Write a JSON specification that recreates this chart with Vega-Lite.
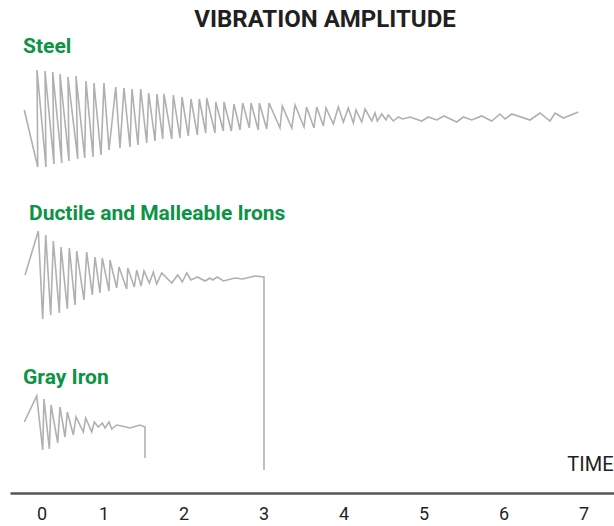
{
  "$schema": "https://vega.github.io/schema/vega-lite/v6.json",
  "width": 604,
  "height": 457,
  "autosize": {"type": "none"},
  "padding": {"left": 10, "top": 36, "right": 0, "bottom": 33},
  "background": "white",
  "config": {"view": {"stroke": null}},
  "title": {
    "text": "VIBRATION AMPLITUDE",
    "font": "Roboto",
    "fontSize": 24,
    "fontWeight": "bold",
    "color": "#231f20",
    "anchor": "middle",
    "dx": 13,
    "offset": 4
  },
  "datasets": {
    "lines": [
      {"series": "Steel", "t": 0.010, "amp": 383},
      {"series": "Steel", "t": 0.178, "amp": 326},
      {"series": "Steel", "t": 0.169, "amp": 423},
      {"series": "Steel", "t": 0.281, "amp": 326},
      {"series": "Steel", "t": 0.269, "amp": 422},
      {"series": "Steel", "t": 0.381, "amp": 329},
      {"series": "Steel", "t": 0.365, "amp": 421},
      {"series": "Steel", "t": 0.478, "amp": 330},
      {"series": "Steel", "t": 0.456, "amp": 419},
      {"series": "Steel", "t": 0.569, "amp": 332},
      {"series": "Steel", "t": 0.556, "amp": 416},
      {"series": "Steel", "t": 0.678, "amp": 334},
      {"series": "Steel", "t": 0.656, "amp": 417},
      {"series": "Steel", "t": 0.765, "amp": 335},
      {"series": "Steel", "t": 0.781, "amp": 412},
      {"series": "Steel", "t": 0.869, "amp": 336},
      {"series": "Steel", "t": 0.881, "amp": 410},
      {"series": "Steel", "t": 0.969, "amp": 338},
      {"series": "Steel", "t": 1.006, "amp": 410},
      {"series": "Steel", "t": 1.069, "amp": 343},
      {"series": "Steel", "t": 1.153, "amp": 406},
      {"series": "Steel", "t": 1.206, "amp": 345},
      {"series": "Steel", "t": 1.256, "amp": 405},
      {"series": "Steel", "t": 1.331, "amp": 346},
      {"series": "Steel", "t": 1.356, "amp": 404},
      {"series": "Steel", "t": 1.431, "amp": 348},
      {"series": "Steel", "t": 1.465, "amp": 404},
      {"series": "Steel", "t": 1.540, "amp": 350},
      {"series": "Steel", "t": 1.565, "amp": 400},
      {"series": "Steel", "t": 1.644, "amp": 352},
      {"series": "Steel", "t": 1.669, "amp": 399},
      {"series": "Steel", "t": 1.740, "amp": 354},
      {"series": "Steel", "t": 1.756, "amp": 399},
      {"series": "Steel", "t": 1.853, "amp": 354},
      {"series": "Steel", "t": 1.873, "amp": 398},
      {"series": "Steel", "t": 1.956, "amp": 355},
      {"series": "Steel", "t": 1.981, "amp": 396},
      {"series": "Steel", "t": 2.060, "amp": 357},
      {"series": "Steel", "t": 2.094, "amp": 394},
      {"series": "Steel", "t": 2.173, "amp": 358},
      {"series": "Steel", "t": 2.198, "amp": 394},
      {"series": "Steel", "t": 2.278, "amp": 360},
      {"series": "Steel", "t": 2.290, "amp": 395},
      {"series": "Steel", "t": 2.394, "amp": 360},
      {"series": "Steel", "t": 2.403, "amp": 391},
      {"series": "Steel", "t": 2.498, "amp": 362},
      {"series": "Steel", "t": 2.506, "amp": 391},
      {"series": "Steel", "t": 2.598, "amp": 362},
      {"series": "Steel", "t": 2.631, "amp": 389},
      {"series": "Steel", "t": 2.706, "amp": 363},
      {"series": "Steel", "t": 2.740, "amp": 390},
      {"series": "Steel", "t": 2.823, "amp": 365},
      {"series": "Steel", "t": 2.844, "amp": 390},
      {"series": "Steel", "t": 2.935, "amp": 363},
      {"series": "Steel", "t": 2.948, "amp": 390},
      {"series": "Steel", "t": 3.040, "amp": 364},
      {"series": "Steel", "t": 3.069, "amp": 390},
      {"series": "Steel", "t": 3.206, "amp": 365},
      {"series": "Steel", "t": 3.235, "amp": 387},
      {"series": "Steel", "t": 3.353, "amp": 365},
      {"series": "Steel", "t": 3.394, "amp": 388},
      {"series": "Steel", "t": 3.506, "amp": 366},
      {"series": "Steel", "t": 3.538, "amp": 386},
      {"series": "Steel", "t": 3.631, "amp": 365},
      {"series": "Steel", "t": 3.665, "amp": 386},
      {"series": "Steel", "t": 3.748, "amp": 367},
      {"series": "Steel", "t": 3.781, "amp": 385},
      {"series": "Steel", "t": 3.873, "amp": 369},
      {"series": "Steel", "t": 3.935, "amp": 386},
      {"series": "Steel", "t": 3.998, "amp": 371},
      {"series": "Steel", "t": 4.060, "amp": 385},
      {"series": "Steel", "t": 4.123, "amp": 370},
      {"series": "Steel", "t": 4.156, "amp": 383},
      {"series": "Steel", "t": 4.228, "amp": 371},
      {"series": "Steel", "t": 4.269, "amp": 384},
      {"series": "Steel", "t": 4.353, "amp": 372},
      {"series": "Steel", "t": 4.394, "amp": 380},
      {"series": "Steel", "t": 4.423, "amp": 372},
      {"series": "Steel", "t": 4.478, "amp": 379},
      {"series": "Steel", "t": 4.531, "amp": 373},
      {"series": "Steel", "t": 4.560, "amp": 378},
      {"series": "Steel", "t": 4.623, "amp": 372},
      {"series": "Steel", "t": 4.685, "amp": 376},
      {"series": "Steel", "t": 4.740, "amp": 374},
      {"series": "Steel", "t": 4.831, "amp": 376},
      {"series": "Steel", "t": 4.978, "amp": 372},
      {"series": "Steel", "t": 5.060, "amp": 376},
      {"series": "Steel", "t": 5.165, "amp": 373},
      {"series": "Steel", "t": 5.256, "amp": 377},
      {"series": "Steel", "t": 5.415, "amp": 371},
      {"series": "Steel", "t": 5.498, "amp": 376},
      {"series": "Steel", "t": 5.603, "amp": 373},
      {"series": "Steel", "t": 5.728, "amp": 377},
      {"series": "Steel", "t": 5.853, "amp": 372},
      {"series": "Steel", "t": 5.956, "amp": 379},
      {"series": "Steel", "t": 6.019, "amp": 374},
      {"series": "Steel", "t": 6.103, "amp": 379},
      {"series": "Steel", "t": 6.331, "amp": 373},
      {"series": "Steel", "t": 6.456, "amp": 380},
      {"series": "Steel", "t": 6.581, "amp": 372},
      {"series": "Steel", "t": 6.644, "amp": 380},
      {"series": "Steel", "t": 6.748, "amp": 375},
      {"series": "Steel", "t": 6.935, "amp": 381},

      {"series": "Ductile", "t": 0.019, "amp": 218},
      {"series": "Ductile", "t": 0.185, "amp": 262},
      {"series": "Ductile", "t": 0.240, "amp": 174},
      {"series": "Ductile", "t": 0.278, "amp": 258},
      {"series": "Ductile", "t": 0.340, "amp": 178},
      {"series": "Ductile", "t": 0.373, "amp": 252},
      {"series": "Ductile", "t": 0.448, "amp": 180},
      {"series": "Ductile", "t": 0.469, "amp": 246},
      {"series": "Ductile", "t": 0.548, "amp": 184},
      {"series": "Ductile", "t": 0.573, "amp": 245},
      {"series": "Ductile", "t": 0.644, "amp": 188},
      {"series": "Ductile", "t": 0.665, "amp": 242},
      {"series": "Ductile", "t": 0.756, "amp": 193},
      {"series": "Ductile", "t": 0.790, "amp": 241},
      {"series": "Ductile", "t": 0.860, "amp": 198},
      {"series": "Ductile", "t": 0.894, "amp": 236},
      {"series": "Ductile", "t": 0.956, "amp": 200},
      {"series": "Ductile", "t": 0.985, "amp": 235},
      {"series": "Ductile", "t": 1.069, "amp": 202},
      {"series": "Ductile", "t": 1.081, "amp": 233},
      {"series": "Ductile", "t": 1.165, "amp": 205},
      {"series": "Ductile", "t": 1.194, "amp": 226},
      {"series": "Ductile", "t": 1.290, "amp": 204},
      {"series": "Ductile", "t": 1.303, "amp": 225},
      {"series": "Ductile", "t": 1.385, "amp": 206},
      {"series": "Ductile", "t": 1.415, "amp": 223},
      {"series": "Ductile", "t": 1.469, "amp": 207},
      {"series": "Ductile", "t": 1.506, "amp": 222},
      {"series": "Ductile", "t": 1.573, "amp": 210},
      {"series": "Ductile", "t": 1.623, "amp": 221},
      {"series": "Ductile", "t": 1.665, "amp": 209},
      {"series": "Ductile", "t": 1.728, "amp": 220},
      {"series": "Ductile", "t": 1.853, "amp": 210},
      {"series": "Ductile", "t": 1.928, "amp": 218},
      {"series": "Ductile", "t": 1.985, "amp": 211},
      {"series": "Ductile", "t": 2.040, "amp": 220},
      {"series": "Ductile", "t": 2.094, "amp": 213},
      {"series": "Ductile", "t": 2.173, "amp": 216},
      {"series": "Ductile", "t": 2.269, "amp": 212},
      {"series": "Ductile", "t": 2.331, "amp": 215},
      {"series": "Ductile", "t": 2.365, "amp": 213},
      {"series": "Ductile", "t": 2.423, "amp": 216},
      {"series": "Ductile", "t": 2.498, "amp": 212},
      {"series": "Ductile", "t": 2.644, "amp": 215},
      {"series": "Ductile", "t": 2.740, "amp": 214},
      {"series": "Ductile", "t": 2.894, "amp": 217},
      {"series": "Ductile", "t": 3.006, "amp": 216},
      {"series": "Ductile", "t": 3.006, "amp": 23},

      {"series": "Gray", "t": 0.010, "amp": 71},
      {"series": "Gray", "t": 0.165, "amp": 97},
      {"series": "Gray", "t": 0.240, "amp": 43},
      {"series": "Gray", "t": 0.256, "amp": 94},
      {"series": "Gray", "t": 0.323, "amp": 44},
      {"series": "Gray", "t": 0.344, "amp": 88},
      {"series": "Gray", "t": 0.428, "amp": 50},
      {"series": "Gray", "t": 0.456, "amp": 86},
      {"series": "Gray", "t": 0.519, "amp": 56},
      {"series": "Gray", "t": 0.548, "amp": 81},
      {"series": "Gray", "t": 0.623, "amp": 58},
      {"series": "Gray", "t": 0.656, "amp": 76},
      {"series": "Gray", "t": 0.748, "amp": 61},
      {"series": "Gray", "t": 0.778, "amp": 75},
      {"series": "Gray", "t": 0.853, "amp": 61},
      {"series": "Gray", "t": 0.885, "amp": 71},
      {"series": "Gray", "t": 0.935, "amp": 66},
      {"series": "Gray", "t": 0.985, "amp": 70},
      {"series": "Gray", "t": 1.019, "amp": 65},
      {"series": "Gray", "t": 1.069, "amp": 71},
      {"series": "Gray", "t": 1.103, "amp": 64},
      {"series": "Gray", "t": 1.165, "amp": 68},
      {"series": "Gray", "t": 1.228, "amp": 67},
      {"series": "Gray", "t": 1.331, "amp": 65},
      {"series": "Gray", "t": 1.456, "amp": 68},
      {"series": "Gray", "t": 1.519, "amp": 66},
      {"series": "Gray", "t": 1.519, "amp": 35}
    ],
    "labels": [
      {"label": "Steel", "t": -0.006, "amp": 440},
      {"label": "Ductile and Malleable Irons", "t": 0.069, "amp": 273},
      {"label": "Gray Iron", "t": -0.006, "amp": 109}
    ]
  },
  "layer": [
    {
      "data": {"name": "lines"},
      "mark": {"type": "line", "color": "#b0b0b0", "strokeWidth": 1.6, "clip": false},
      "encoding": {
        "x": {
          "field": "t",
          "type": "quantitative",
          "scale": {"domain": [-0.16875, 7.38125], "nice": false, "zero": false},
          "axis": {
            "values": [0, 1, 2, 3, 4, 5, 6, 7],
            "format": "d",
            "ticks": false,
            "tickSize": 0,
            "grid": false,
            "domainColor": "#555555",
            "domainWidth": 2.5,
            "labelFont": "Roboto",
            "labelFontSize": 18,
            "labelColor": "#231f20",
            "labelPadding": 12,
            "labelOffset": {"condition": {"test": "datum.value === 0", "value": 18}, "value": 0},
            "title": "TIME",
            "titleFont": "Roboto",
            "titleFontSize": 20,
            "titleFontWeight": "normal",
            "titleColor": "#231f20",
            "titleAnchor": "end",
            "titleAlign": "right",
            "titleBaseline": "alphabetic",
            "titleX": 603,
            "titleY": -23
          }
        },
        "y": {
          "field": "amp",
          "type": "quantitative",
          "scale": {"domain": [0, 457], "nice": false, "zero": false},
          "axis": null
        },
        "detail": {"field": "series"},
        "order": {"value": null}
      }
    },
    {
      "data": {"name": "labels"},
      "mark": {
        "type": "text",
        "align": "left",
        "baseline": "alphabetic",
        "font": "Roboto",
        "fontSize": 21,
        "fontWeight": "bold",
        "color": "#0b9444"
      },
      "encoding": {
        "x": {"field": "t", "type": "quantitative"},
        "y": {"field": "amp", "type": "quantitative"},
        "text": {"field": "label"}
      }
    }
  ]
}
